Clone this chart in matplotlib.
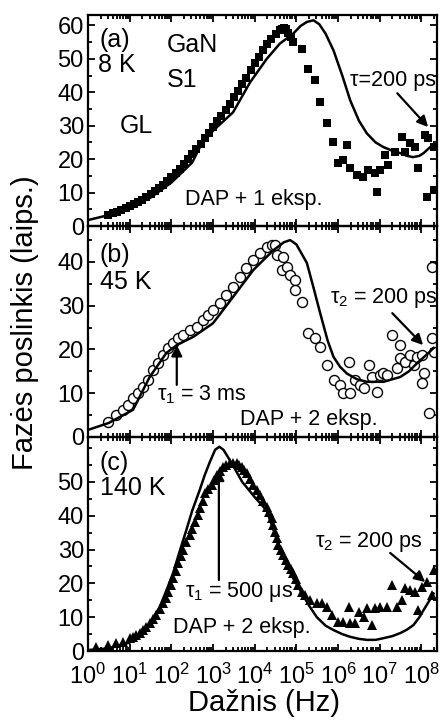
import matplotlib
matplotlib.use("Agg")
import matplotlib.pyplot as plt
from matplotlib.ticker import MultipleLocator, LogLocator, NullFormatter
import numpy as np

plt.rcParams['font.family'] = ['Liberation Sans', 'DejaVu Sans']
plt.rcParams['mathtext.fontset'] = 'custom'
plt.rcParams['mathtext.rm'] = 'Liberation Sans'
plt.rcParams['mathtext.it'] = 'Liberation Sans'
plt.rcParams['mathtext.bf'] = 'Liberation Sans:bold'

# --- duomenys: log10(dažnis) ir fazės poslinkis (laipsniai) ---
# (a) 8 K, kvadratai
a_exp = [0.47, 0.6, 0.7, 0.8, 0.9, 1.0, 1.1, 1.2, 1.3, 1.4, 1.5, 1.6, 1.7, 1.8, 1.9,
         2.0, 2.1, 2.2, 2.3, 2.4, 2.5, 2.6, 2.7, 2.8, 2.9, 3.0, 3.1, 3.2, 3.3, 3.4,
         3.5, 3.6, 3.7, 3.8, 3.9, 4.0, 4.1, 4.2, 4.3, 4.4, 4.5, 4.6, 4.65, 4.7, 4.75,
         4.8, 4.87, 4.93, 5.13, 5.29, 5.44, 5.57, 5.73, 5.87, 6.0, 6.12, 6.21, 6.29,
         6.45, 6.6, 6.72, 6.89, 6.93, 7.0, 7.13, 7.2, 7.37, 7.53, 7.61, 7.73, 7.85,
         7.92, 8.09, 8.14, 8.16, 8.29, 8.29]
a_val = [3.3, 3.8, 4.3, 4.8, 5.3, 5.9, 6.5, 7.2, 7.9, 8.7, 9.5, 10.4, 11.4, 12.4, 13.5,
         14.7, 15.9, 17.2, 18.6, 20.0, 21.5, 23.0, 24.6, 26.2, 27.9, 29.6, 31.3, 33.0, 34.8, 36.6,
         38.5, 40.4, 42.4, 44.4, 46.5, 48.6, 50.6, 52.5, 54.3, 56.0, 57.4, 58.5, 59.0, 59.1, 58.8,
         57.8, 56.5, 55.0, 53.0, 47.0, 43.6, 37.0, 30.7, 25.0, 18.8, 19.7, 24.2, 17.3,
         15.2, 14.6, 16.7, 15.8, 10.1, 16.7, 21.2, 18.2, 22.0, 26.6, 22.0, 24.8, 23.6,
         17.3, 27.2, 8.7, 26.3, 23.6, 10.7]
a_fit_exp = [0.0, 0.5, 1.0, 1.5, 2.0, 2.5, 2.7, 3.0, 3.48, 3.89, 4.29, 4.6, 4.93, 5.1,
             5.25, 5.41, 5.55, 5.7, 5.89, 6.1, 6.29, 6.5, 6.69, 6.9, 7.09, 7.3, 7.49,
             7.65, 7.8, 7.95, 8.05, 8.21, 8.29]
a_fit_val = [1.8, 3.3, 5.3, 8.5, 13.0, 19.0, 24.0, 28.5, 34.0, 43.0, 50.0, 54.5, 57.6, 59.8,
             61.0, 61.5, 60.3, 57.5, 52.5, 45.0, 37.6, 31.5, 27.7, 25.0, 23.6, 22.5, 21.8,
             21.0, 20.6, 21.0, 21.8, 23.6, 24.5]

# (b) 45 K, apskritimai
b_exp = [0.47, 0.68, 0.84, 0.96, 1.08, 1.2, 1.32, 1.44, 1.56, 1.68, 1.8, 1.92, 2.04, 2.17,
         2.29, 2.45, 2.61, 2.77, 2.89, 3.0, 3.16, 3.32, 3.48, 3.64, 3.8, 3.97, 4.13, 4.29,
         4.41, 4.49, 4.53, 4.68, 4.65, 4.77, 4.85, 4.97, 4.97, 5.13, 5.29, 5.44, 5.57, 5.73,
         5.89, 6.05, 6.12, 6.29, 6.25, 6.41, 6.53, 6.61, 6.73, 6.81, 6.93, 7.0, 7.08, 7.17,
         7.29, 7.41, 7.49, 7.49, 7.61, 7.73, 7.81, 7.9, 8.01, 8.05, 8.01, 8.17, 8.25, 8.25, 8.29]
b_val = [3.3, 5.0, 6.2, 7.3, 8.9, 10.0, 11.4, 13.0, 15.3, 16.9, 18.7, 20.3, 21.5, 22.6,
         23.3, 24.5, 25.1, 26.7, 27.9, 29.0, 30.6, 32.4, 34.2, 36.6, 38.6, 40.5, 42.0, 43.5,
         43.9, 43.9, 41.6, 41.1, 38.2, 38.9, 37.0, 35.9, 33.6, 30.9, 23.8, 22.6, 20.6, 16.5,
         13.0, 11.9, 10.0, 10.0, 17.1, 13.0, 11.9, 11.2, 16.5, 13.7, 10.3, 14.2, 14.6, 14.2,
         23.3, 15.8, 18.1, 21.0, 17.1, 18.7, 16.5, 18.3, 18.7, 14.6, 12.3, 5.5, 22.6, 38.9, 19.4]
b_fit_exp = [0.0, 0.5, 1.08, 1.48, 1.88, 2.13, 2.53, 3.0, 3.48, 3.97, 4.45, 4.7, 4.85, 5.0,
             5.25, 5.4, 5.57, 5.75, 5.89, 6.05, 6.21, 6.45, 6.69, 7.09, 7.49, 7.7, 7.9, 8.1, 8.29]
b_fit_val = [1.6, 3.2, 6.2, 13.7, 19.2, 21.0, 22.9, 26.0, 32.0, 38.2, 42.7, 44.5, 45.0, 44.0,
             39.8, 34.5, 28.3, 22.0, 18.3, 16.0, 14.5, 13.2, 12.6, 12.6, 13.7, 15.0, 16.9, 18.6, 20.3]

# (c) 140 K, trikampiai
c_exp = [0.2, 0.47, 0.68, 0.84, 1.0, 1.08, 1.16, 1.24, 1.32, 1.4, 1.48, 1.56, 1.64, 1.72,
         1.8, 1.86, 1.92, 1.98, 2.04, 2.1, 2.16, 2.22, 2.28, 2.36, 2.44, 2.5, 2.57, 2.63,
         2.69, 2.75, 2.81, 2.89, 2.97, 3.03, 3.09, 3.16, 3.24, 3.32, 3.41, 3.49, 3.57, 3.63,
         3.69, 3.75, 3.81, 3.89, 3.97, 4.05, 4.13, 4.21, 4.29, 4.35, 4.41, 4.45, 4.49, 4.53,
         4.57, 4.63, 4.69, 4.75, 4.81, 4.87, 4.93, 4.99, 5.05, 5.13, 5.21, 5.33, 5.49, 5.61,
         5.73, 5.85, 6.0, 6.12, 6.25, 6.29, 6.41, 6.49, 6.61, 6.69, 6.81, 6.89, 7.0, 7.17,
         7.29, 7.41, 7.53, 7.61, 7.73, 7.85, 7.92, 8.01, 8.13, 8.29, 8.25]
c_val = [1.2, 1.8, 2.4, 2.7, 3.8, 4.2, 4.7, 5.4, 6.2, 7.2, 8.3, 9.4, 10.6, 12.3,
         14.2, 15.8, 17.5, 19.5, 21.6, 23.8, 26.0, 28.0, 29.9, 32.1, 34.3, 36.2, 38.2, 40.3,
         42.3, 44.5, 46.7, 48.0, 49.1, 50.6, 52.0, 53.2, 54.4, 55.0, 55.6, 55.6, 55.6, 55.0,
         54.4, 53.6, 52.7, 50.9, 49.1, 47.7, 46.2, 44.4, 42.6, 41.0, 39.3, 37.2, 35.2, 33.3,
         31.4, 29.9, 28.4, 26.9, 25.4, 24.2, 23.1, 21.3, 19.5, 17.5, 16.6, 15.1, 14.2, 14.2,
         13.0, 10.6, 8.6, 8.6, 13.0, 8.3, 8.3, 11.5, 10.1, 12.7, 7.7, 12.7, 13.0, 13.0,
         19.5, 13.0, 15.1, 18.6, 18.0, 17.5, 12.1, 18.9, 20.4, 24.0, 16.6]
c_fit_exp = [0.0, 0.5, 1.0, 1.32, 1.5, 1.72, 1.9, 2.04, 2.2, 2.36, 2.5, 2.68, 2.8, 2.92,
             3.05, 3.15, 3.25, 3.35, 3.48, 3.7, 4.0, 4.29, 4.5, 4.69, 4.9, 5.09, 5.3, 5.49,
             5.7, 5.89, 6.1, 6.29, 6.5, 6.69, 6.9, 7.09, 7.3, 7.49, 7.65, 7.81, 7.95, 8.05,
             8.17, 8.29]
c_fit_val = [0.3, 0.8, 2.5, 5.6, 8.5, 13.0, 18.5, 23.0, 29.5, 35.8, 41.5, 47.6, 52.0, 55.8,
             59.5, 60.4, 59.5, 57.5, 54.8, 50.0, 45.5, 41.5, 34.0, 27.8, 22.0, 18.0, 13.5, 10.0,
             7.5, 6.2, 5.0, 4.2, 3.6, 3.3, 3.3, 3.8, 4.4, 5.3, 6.3, 7.7, 10.0, 12.1,
             14.5, 17.0]

x_ticks_exp = [0, 1, 2, 3, 4, 5, 6, 7, 8]

fig = plt.figure(figsize=(4.4, 7.27), dpi=100)
left, width = 0.2, 0.793
ax_a = fig.add_axes([left, 0.689, width, 0.290])
ax_b = fig.add_axes([left, 0.399, width, 0.290])
ax_c = fig.add_axes([left, 0.1045, width, 0.2945])

f = lambda e: 10.0 ** np.array(e)

ax_a.plot(f(a_exp), a_val, 's', color='k', ms=5.5, mew=0)
ax_a.plot(f(a_fit_exp), a_fit_val, 'k-', lw=1.8)
ax_b.plot(f(b_exp), b_val, 'o', mfc='white', mec='k', ms=7.2, mew=1.0)
ax_b.plot(f(b_fit_exp), b_fit_val, 'k-', lw=1.8)
ax_c.plot(f(c_exp), c_val, '^', color='k', ms=7, mew=0)
ax_c.plot(f(c_fit_exp), c_fit_val, 'k-', lw=1.8)

ylims = [(0, 63), (0, 48.2), (0, 63.3)]
ymaj = [[0, 10, 20, 30, 40, 50, 60], [0, 10, 20, 30, 40], [0, 10, 20, 30, 40, 50]]
for ax, yl, yt in zip([ax_a, ax_b, ax_c], ylims, ymaj):
    ax.set_xscale('log')
    ax.set_xlim(1, 2.35e8)
    ax.set_ylim(*yl)
    ax.set_yticks(yt)
    ax.yaxis.set_minor_locator(MultipleLocator(5))
    ax.set_xticks(f(x_ticks_exp))
    ax.xaxis.set_minor_locator(LogLocator(base=10, subs=np.arange(2, 10), numticks=20))
    ax.xaxis.set_minor_formatter(NullFormatter())
    ax.tick_params(which='both', direction='in', top=True, right=True, width=1.3)
    ax.tick_params(which='major', length=5, labelsize=17, pad=3)
    ax.tick_params(which='minor', length=3)
    for s in ax.spines.values():
        s.set_linewidth(1.6)
    ax.patch.set_alpha(0)

ax_a.tick_params(labelbottom=False)
ax_b.tick_params(labelbottom=False)
ax_c.tick_params(axis='x', which='major', pad=9)
ax_c.set_xticklabels([r'$\mathdefault{10^{%d}}$' % e for e in x_ticks_exp])

big = 18
small = 15.5
arw = dict(arrowstyle='-|>', color='k', lw=1.6, mutation_scale=16, shrinkA=0, shrinkB=0)

# (a)
ax_a.text(f(0.28), 55.5, '(a)', fontsize=big, va='center')
ax_a.text(f(0.23), 48, '8 K', fontsize=big, va='center')
ax_a.text(f(1.89), 54, 'GaN', fontsize=big, va='center')
ax_a.text(f(1.89), 43.6, 'S1', fontsize=big, va='center')
ax_a.text(f(0.76), 30, 'GL', fontsize=big, va='center')
ax_a.text(f(2.32), 7.8, 'DAP + 1 eksp.', fontsize=small, va='center')
ax_a.text(f(6.29), 43.6, 'τ=200 ps', fontsize=small, va='center')
ax_a.annotate('', xy=(f(8.16), 29.6), xytext=(f(7.42), 39.7), arrowprops=arw)

# (b)
ax_b.text(f(0.28), 41.6, '(b)', fontsize=big, va='center')
ax_b.text(f(0.28), 35.4, '45 K', fontsize=big, va='center')
ax_b.text(f(1.65), 9.6, r'$\tau_1$ = 3 ms', fontsize=small, va='center')
ax_b.text(f(3.64), 3.9, 'DAP + 2 eksp.', fontsize=small, va='center')
ax_b.text(f(5.81), 31.8, r'$\tau_2$ = 200 ps', fontsize=small, va='center')
ax_b.annotate('', xy=(f(2.13), 21.0), xytext=(f(2.13), 11.9), arrowprops=arw)
ax_b.annotate('', xy=(f(8.04), 21.0), xytext=(f(7.30), 28.3), arrowprops=arw)

# (c)
ax_c.text(f(0.28), 55.5, '(c)', fontsize=big, va='center')
ax_c.text(f(0.28), 48.3, '140 K', fontsize=big, va='center')
ax_c.text(f(2.32), 17.5, r'$\tau_1$ = 500 μs', fontsize=small, va='center')
ax_c.text(f(2.03), 7.1, 'DAP + 2 eksp.', fontsize=small, va='center')
ax_c.text(f(5.45), 32.2, r'$\tau_2$ = 200 ps', fontsize=small, va='center')
ax_c.annotate('', xy=(f(3.14), 53.6), xytext=(f(3.14), 21.0), arrowprops=arw)
ax_c.annotate('', xy=(f(8.09), 20.4), xytext=(f(7.25), 29.0), arrowprops=arw)

fig.text(25 / 440, 1 - 323 / 727, 'Fazės poslinkis (laips.)', rotation=90,
         fontsize=21, ha='center', va='center')
fig.text(264 / 440, 1 - 703 / 727, 'Dažnis (Hz)', fontsize=21, ha='center', va='center')

fig.savefig('out.png', dpi=100)
